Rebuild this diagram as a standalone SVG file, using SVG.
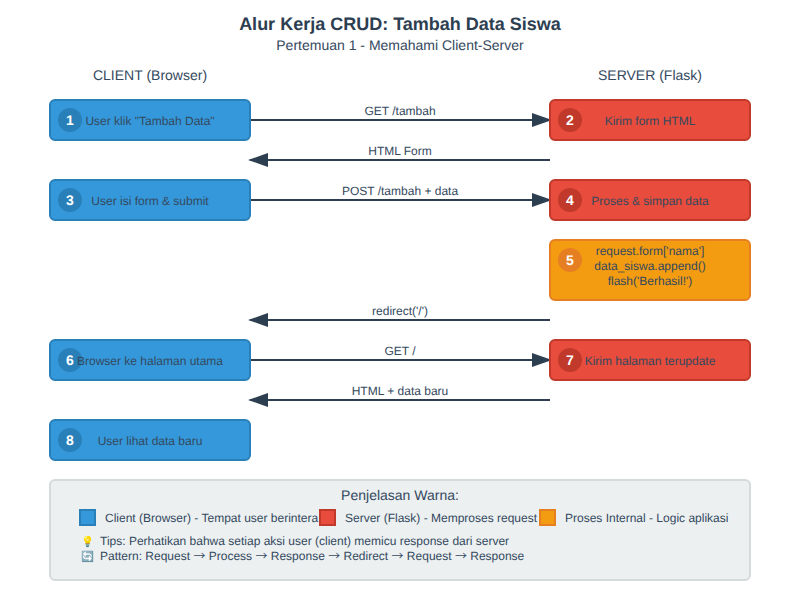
<svg xmlns="http://www.w3.org/2000/svg" width="800" height="600" viewBox="0 0 800 600">
<style>
text{font-family:"Liberation Sans",Arial,sans-serif;fill:#34495e;text-anchor:middle;text-rendering:geometricPrecision}
.t{font-size:12px}
.n{font-size:14px;font-weight:bold;fill:#fff}
.lane{font-size:14px}
.box{stroke-width:2}
.blue{fill:#3498db;stroke:#2980b9}
.red{fill:#e74c3c;stroke:#c0392b}
.org{fill:#f39c12;stroke:#e67e22}
.cb{fill:#2980b9}.cr{fill:#c0392b}.co{fill:#e67e22}
.a{stroke:#2c3e50;stroke-width:2;fill:none;marker-end:url(#ah)}
.l{font-size:12px;text-anchor:start}
.e{font-size:10.5px}
.w{font-family:"Noto Sans CJK SC",sans-serif}
</style>
<defs><marker id="ah" markerWidth="10" markerHeight="7" refX="9" refY="3.5" orient="auto"><polygon points="0 0,10 3.5,0 7" fill="#2c3e50"/></marker></defs>
<rect width="800" height="600" fill="#fff"/>
<text x="400" y="30" font-size="18" font-weight="bold" style="fill:#2c3e50">Alur Kerja CRUD: Tambah Data Siswa</text>
<text x="400" y="50" font-size="14">Pertemuan 1 - Memahami Client-Server</text>
<text class="lane" x="150" y="80">CLIENT (Browser)</text>
<text class="lane" x="650" y="80">SERVER (Flask)</text>
<g id="connectors">
<line class="a" x1="250" y1="120" x2="550" y2="120"/><text class="t" x="400" y="115">GET /tambah</text>
<line class="a" x1="550" y1="160" x2="250" y2="160"/><text class="t" x="400" y="155">HTML Form</text>
<line class="a" x1="250" y1="200" x2="550" y2="200"/><text class="t" x="400" y="195">POST /tambah + data</text>
<line class="a" x1="550" y1="320" x2="250" y2="320"/><text class="t" x="400" y="315">redirect('/')</text>
<line class="a" x1="250" y1="360" x2="550" y2="360"/><text class="t" x="400" y="355">GET /</text>
<line class="a" x1="550" y1="400" x2="250" y2="400"/><text class="t" x="400" y="395">HTML + data baru</text>
</g>
<g id="node1"><rect class="box blue" x="50" y="100" width="200" height="40" rx="5"/><circle class="cb" cx="70" cy="120" r="12"/><text class="n" x="70" y="125">1</text><text class="t" x="150" y="125">User klik "Tambah Data"</text></g>
<g id="node2"><rect class="box red" x="550" y="100" width="200" height="40" rx="5"/><circle class="cr" cx="570" cy="120" r="12"/><text class="n" x="570" y="125">2</text><text class="t" x="650" y="125">Kirim form HTML</text></g>
<g id="node3"><rect class="box blue" x="50" y="180" width="200" height="40" rx="5"/><circle class="cb" cx="70" cy="200" r="12"/><text class="n" x="70" y="205">3</text><text class="t" x="150" y="205">User isi form &amp; submit</text></g>
<g id="node4"><rect class="box red" x="550" y="180" width="200" height="40" rx="5"/><circle class="cr" cx="570" cy="200" r="12"/><text class="n" x="570" y="205">4</text><text class="t" x="650" y="205">Proses &amp; simpan data</text></g>
<g id="node5"><rect class="box org" x="550" y="240" width="200" height="60" rx="5"/><circle class="co" cx="570" cy="260" r="12"/><text class="n" x="570" y="265">5</text><text class="t" x="650" y="255">request.form['nama']</text><text class="t" x="650" y="270">data_siswa.append()</text><text class="t" x="650" y="285">flash('Berhasil!')</text></g>
<g id="node6"><rect class="box blue" x="50" y="340" width="200" height="40" rx="5"/><circle class="cb" cx="70" cy="360" r="12"/><text class="n" x="70" y="365">6</text><text class="t" x="150" y="365">Browser ke halaman utama</text></g>
<g id="node7"><rect class="box red" x="550" y="340" width="200" height="40" rx="5"/><circle class="cr" cx="570" cy="360" r="12"/><text class="n" x="570" y="365">7</text><text class="t" x="650" y="365">Kirim halaman terupdate</text></g>
<g id="node8"><rect class="box blue" x="50" y="420" width="200" height="40" rx="5"/><circle class="cb" cx="70" cy="440" r="12"/><text class="n" x="70" y="445">8</text><text class="t" x="150" y="445">User lihat data baru</text></g>
<g id="legend">
<rect x="50" y="480" width="700" height="100" rx="5" fill="#ecf0f1" stroke="#d5dbdb" stroke-width="2"/>
<text x="400" y="500" font-size="14">Penjelasan Warna:</text>
<text class="l" x="105" y="522">Client (Browser) - Tempat user berintera</text>
<rect class="box blue" x="80" y="510" width="15" height="15"/>
<rect class="box red" x="320" y="510" width="15" height="15"/>
<text class="l" x="345" y="522">Server (Flask) - Memproses request</text>
<rect class="box org" x="540" y="510" width="15" height="15"/>
<text class="l" x="565" y="522">Proses Internal - Logic aplikasi</text>
<text class="e" x="88" y="545">💡</text><text class="l" x="100" y="545">Tips: Perhatikan bahwa setiap aksi user (client) memicu response dari server</text>
<text class="e" x="88" y="560">🔄</text><text class="l" x="100" y="560">Pattern: Request <tspan class="w">→</tspan> Process <tspan class="w">→</tspan> Response <tspan class="w">→</tspan> Redirect <tspan class="w">→</tspan> Request <tspan class="w">→</tspan> Response</text>
</g>
</svg>
